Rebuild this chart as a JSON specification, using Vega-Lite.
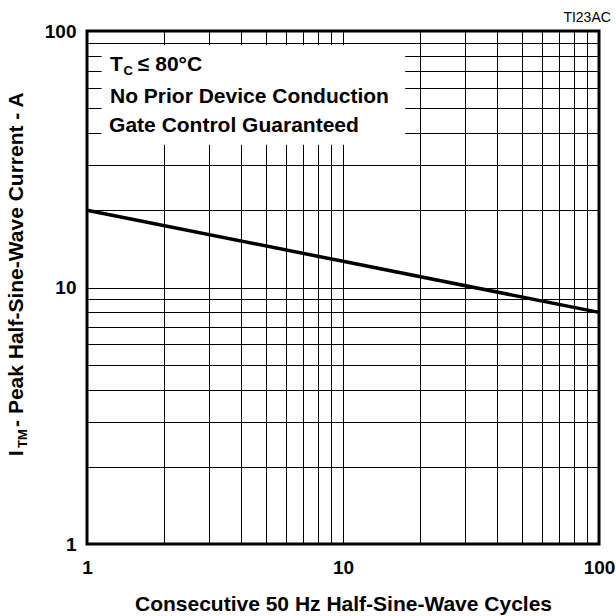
{
  "$schema": "https://vega.github.io/schema/vega-lite/v6.json",
  "width": 512,
  "height": 513,
  "autosize": {"type": "none"},
  "padding": {"left": 87, "top": 31, "right": 17, "bottom": 72},
  "background": "white",
  "title": {"text": "TI23AC", "anchor": "end", "fontSize": 14, "fontWeight": "normal", "font": "Liberation Sans", "color": "black", "offset": -3, "dx": -4},
  "config": {
    "font": "Liberation Sans",
    "view": {"stroke": "black", "strokeWidth": 3}
  },
  "layer": [
    {
      "data": {"values": [{"x1": 1.14, "x2": 17.5, "y1": 36, "y2": 88}]},
      "mark": {"type": "rect", "fill": "white", "stroke": null},
      "encoding": {
        "x": {"field": "x1", "type": "quantitative", "scale": {"type": "log", "domain": [1, 100], "nice": false},
          "axis": {
            "values": [1, 2, 3, 4, 5, 6, 7, 8, 9, 10, 20, 30, 40, 50, 60, 70, 80, 90, 100],
            "format": "d",
            "labelExpr": "(datum.value == 1 || datum.value == 10 || datum.value == 100) ? datum.label : ''",
            "grid": true, "gridColor": "black", "gridWidth": 1, "gridOpacity": 1,
            "ticks": false, "domain": false, "labelOverlap": false, "labelFlush": false, "labelBound": false,
            "labelFontSize": 19, "labelFontWeight": "bold", "labelColor": "black", "labelPadding": 14,
            "title": "Consecutive 50 Hz Half-Sine-Wave Cycles", "titleFontSize": 21, "titleFontWeight": "bold", "titleColor": "black", "titlePadding": 16
          }},
        "x2": {"field": "x2"},
        "y": {"field": "y1", "type": "quantitative", "scale": {"type": "log", "domain": [1, 100], "nice": false},
          "axis": {
            "values": [1, 2, 3, 4, 5, 6, 7, 8, 9, 10, 20, 30, 40, 50, 60, 70, 80, 90, 100],
            "format": "d",
            "labelExpr": "(datum.value == 1 || datum.value == 10 || datum.value == 100) ? datum.label : ''",
            "grid": true, "gridColor": "black", "gridWidth": 1, "gridOpacity": 1,
            "ticks": false, "domain": false, "labelOverlap": false, "labelFlush": false, "labelBound": false,
            "labelFontSize": 19, "labelFontWeight": "bold", "labelColor": "black", "labelPadding": 11,
            "title": null
          }},
        "y2": {"field": "y2"}
      }
    },
    {
      "data": {"values": [{"n": 1, "i": 20}, {"n": 10, "i": 12.65}, {"n": 100, "i": 8}]},
      "mark": {"type": "line", "color": "black", "strokeWidth": 3.5},
      "encoding": {
        "x": {"field": "n", "type": "quantitative"},
        "y": {"field": "i", "type": "quantitative"}
      }
    },
    {
      "data": {"values": [
        {"x": 1.23, "y": 69.8, "t": "T"},
        {"x": 1.58, "y": 69.8, "t": "≤ 80°C"},
        {"x": 1.23, "y": 52.4, "t": "No Prior Device Conduction"},
        {"x": 1.22, "y": 40.4, "t": "Gate Control Guaranteed"}
      ]},
      "mark": {"type": "text", "align": "left", "baseline": "alphabetic", "fontSize": 21, "fontWeight": "bold", "color": "black"},
      "encoding": {
        "x": {"field": "x", "type": "quantitative"},
        "y": {"field": "y", "type": "quantitative"},
        "text": {"field": "t"}
      }
    },
    {
      "data": {"values": [{"x": 1.39, "y": 67.4, "t": "C"}]},
      "mark": {"type": "text", "align": "left", "baseline": "alphabetic", "fontSize": 13, "fontWeight": "bold", "color": "black"},
      "encoding": {
        "x": {"field": "x", "type": "quantitative"},
        "y": {"field": "y", "type": "quantitative"},
        "text": {"field": "t"}
      }
    },
    {
      "data": {"values": [
        {"x": 0.562, "y": 2.2, "t": "I"},
        {"x": 0.562, "y": 2.86, "t": "- Peak Half-Sine-Wave Current - A"}
      ]},
      "mark": {"type": "text", "align": "left", "baseline": "alphabetic", "angle": 270, "fontSize": 21, "fontWeight": "bold", "color": "black"},
      "encoding": {
        "x": {"field": "x", "type": "quantitative"},
        "y": {"field": "y", "type": "quantitative"},
        "text": {"field": "t"}
      }
    },
    {
      "data": {"values": [{"x": 0.583, "y": 2.37, "t": "TM"}]},
      "mark": {"type": "text", "align": "left", "baseline": "alphabetic", "angle": 270, "fontSize": 13, "fontWeight": "bold", "color": "black"},
      "encoding": {
        "x": {"field": "x", "type": "quantitative"},
        "y": {"field": "y", "type": "quantitative"},
        "text": {"field": "t"}
      }
    }
  ]
}
